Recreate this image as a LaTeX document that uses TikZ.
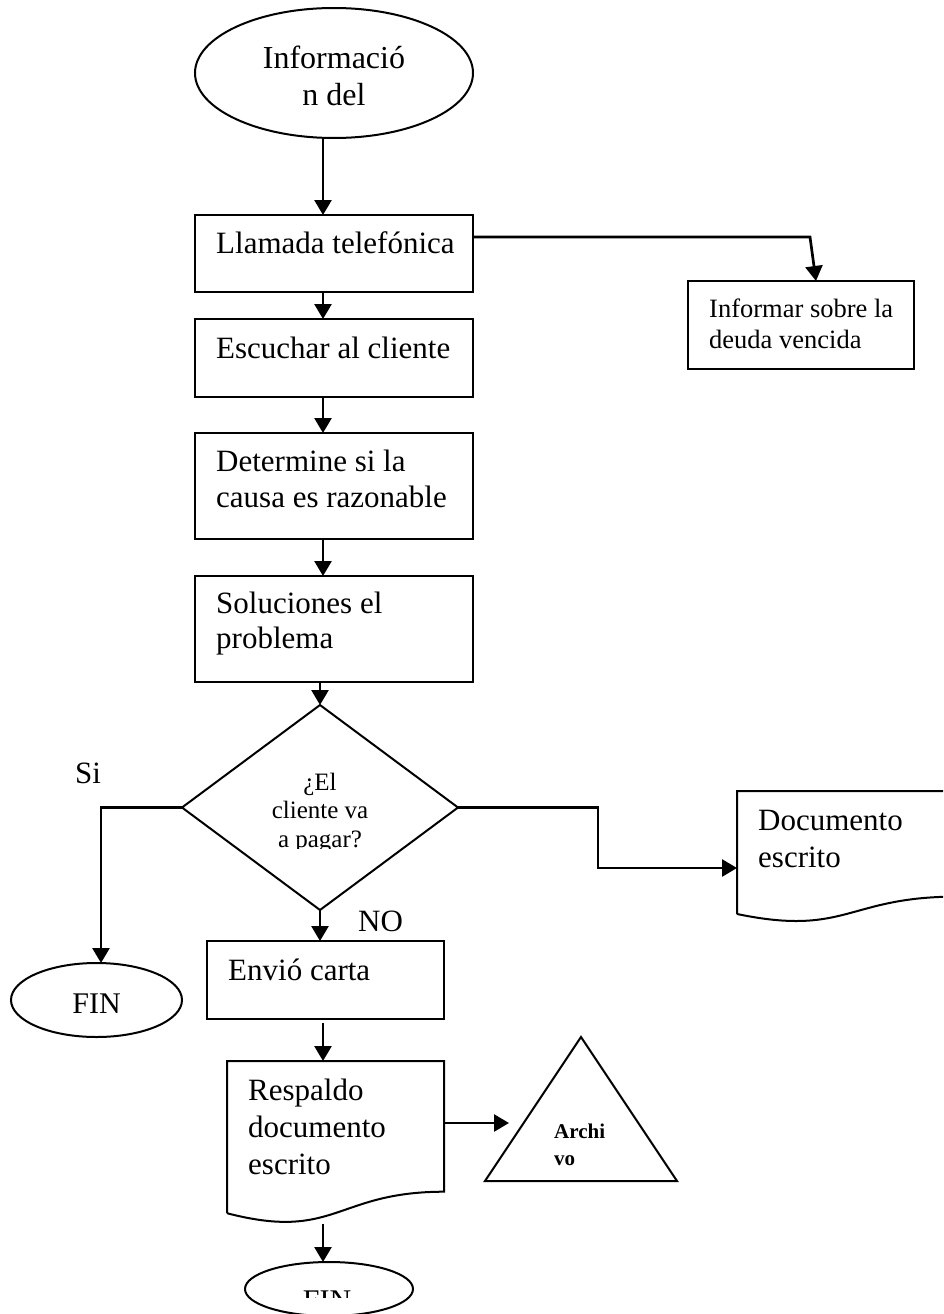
\documentclass[tikz,border=0pt]{standalone}
\usepackage{fontspec}
\setmainfont{Liberation Serif}
\usetikzlibrary{arrows.meta,shapes.geometric}
\begin{document}
\begin{tikzpicture}[x=1pt,y=-1pt,
  shapeline/.style={draw=black, line width=2pt},
  box/.style={shapeline, rectangle, inner sep=0pt, outer sep=0pt},
  oval/.style={shapeline, ellipse, inner sep=0pt, outer sep=0pt},
  decision/.style={shapeline, diamond, inner sep=0pt, outer sep=0pt},
  arr/.style={draw=black, line width=2.7pt, -{Triangle[length=15pt,width=17pt]}},
  txt/.style={inner sep=0pt, anchor=base west, font=\fontsize{31}{36}\selectfont},
  ctxt/.style={txt, anchor=base},
  smalltxt/.style={txt, font=\fontsize{26.5}{31}\selectfont},
  qtxt/.style={inner sep=0pt, anchor=base, font=\fontsize{25}{29}\selectfont},
  archtxt/.style={inner sep=0pt, anchor=base west, font=\fontsize{21}{27}\selectfont\bfseries}
]
\useasboundingbox (0,0) rectangle (943,1314);
\clip (0,0) rectangle (943,1314);

% vertical spine of the main flow
\coordinate (spine) at (323,0);

% start
\node[oval, minimum width=278pt, minimum height=130pt] (start) at (334,73) {};
\node[ctxt, font=\fontsize{32}{37}\selectfont] (startA) at (334,68) {Informació};
\node[ctxt, font=\fontsize{32}{37}\selectfont] (startB) at (334,105) {n del};

% process boxes
\node[box, minimum width=278pt, minimum height=77pt] (call) at (334,253.5) {};
\node[txt] (callT) at (216,253) {Llamada telefónica};

\node[box, minimum width=278pt, minimum height=78pt] (listen) at (334,358) {};
\node[txt] (listenT) at (216,358) {Escuchar al cliente};

\node[box, minimum width=278pt, minimum height=106pt] (cause) at (334,486) {};
\node[txt] (causeA) at (216,471) {Determine si la};
\node[txt] (causeB) at (216,507) {causa es razonable};

\node[box, minimum width=278pt, minimum height=106pt] (solve) at (334,629) {};
\node[txt] (solveA) at (216,613) {Soluciones el};
\node[txt] (solveB) at (216,648) {problema};

\node[box, minimum width=226pt, minimum height=88pt] (inform) at (801,325) {};
\node[smalltxt] (informA) at (709,317) {Informar sobre la};
\node[smalltxt] (informB) at (709,348) {deuda vencida};

% decision
\node[decision, minimum width=276pt, minimum height=205pt] (pay) at (320,807.5) {};
\node[qtxt] (payA) at (320,790) {¿El};
\node[qtxt] (payB) at (320,818) {cliente va};
\begin{scope}
  \clip (250,820) rectangle (400,848);
  \node[qtxt] (payC) at (320,847) {a pagar?};
\end{scope}
\node[txt] (yes) at (75,783) {Si};
\node[txt] (no) at (358,931) {NO};

% end on the "Si" branch
\node[oval, minimum width=171pt, minimum height=74pt] (endL) at (96.5,1000) {};
\node[ctxt, font=\fontsize{30}{35}\selectfont] (endLT) at (96.5,1013) {FIN};

% written document on the right
\coordinate (docTL) at (737,791);
\coordinate (docIn) at (737,868);
\draw[shapeline] (737,914) -- (docTL) -- (957,791) -- (957,896.6)
  .. controls (847,896.6) and (847,936.8) .. (737,914);
\node[txt] (docA) at (758,830) {Documento};
\node[txt] (docB) at (758,867) {escrito};

% letter
\node[box, minimum width=237pt, minimum height=78pt] (letter) at (325.5,980) {};
\node[txt] (letterT) at (228,980) {Envió carta};

% backup document
\coordinate (backTop) at (323,1061);
\coordinate (backRight) at (444,1123);
\coordinate (backBottom) at (323,1224);
\draw[shapeline] (227,1213.2) -- (227,1061) -- (444,1061) -- (444,1191.7)
  .. controls (335.5,1191.7) and (335.5,1241.4) .. (227,1213.2);
\node[txt] (backA) at (248,1100) {Respaldo};
\node[txt] (backB) at (248,1137) {documento};
\node[txt] (backC) at (248,1174) {escrito};

% archive
\coordinate (archIn) at (509,1123);
\draw[shapeline, line join=miter] (581,1037) -- (677,1181) -- (485,1181) -- cycle;
\node[archtxt] (archA) at (554,1138) {Archi};
\node[archtxt] (archB) at (554,1165) {vo};

% final end
\node[oval, minimum width=168pt, minimum height=54pt] (endB) at (329,1289) {};
\begin{scope}
  \clip (270,1270) rectangle (390,1297);
  \node[ctxt, font=\fontsize{30}{35}\selectfont] (endBT) at (327,1310) {FIN};
\end{scope}

% connectors
\coordinate (bendA) at (810,237);
\coordinate (dropA) at (816,0);
\coordinate (siX) at (101,0);
\coordinate (noX) at (598,0);

\draw[arr] (start.south -| spine) -- (call.north -| spine);
\draw[arr] (call.south -| spine) -- (listen.north -| spine);
\draw[arr] (listen.south -| spine) -- (cause.north -| spine);
\draw[arr] (cause.south -| spine) -- (solve.north -| spine);
\draw[arr] (solve.south -| pay.north) -- (pay.north);
\draw[arr] (call.east |- bendA) -- (bendA) -- (inform.north -| dropA);
\draw[arr] (pay.west) -| (endL.north -| siX);
\draw[arr] (pay.east) -- (pay.east -| noX) -- (docIn -| noX) -- (docIn);
\draw[arr] (pay.south) -- (letter.north -| pay.south);
\draw[arr, shorten <=4pt] (letter.south -| spine) -- (backTop);
\draw[arr] (backRight) -- (archIn);
\draw[arr] (backBottom) -- (endB.north -| spine);
\end{tikzpicture}
\end{document}
